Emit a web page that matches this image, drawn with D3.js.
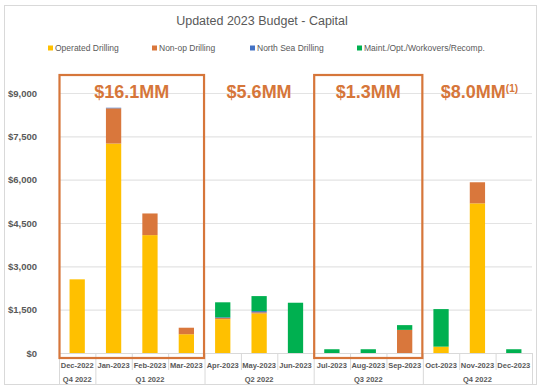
<!DOCTYPE html>
<html>
<head>
<meta charset="utf-8">
<script src="https://cdn.jsdelivr.net/npm/d3@7"></script>
<style>
  body { margin: 0; background: #fff; }
  svg { font-family: "Liberation Sans", Arial, sans-serif; }
</style>
</head>
<body>
<div id="chart"></div>
<script>
// ── Data ──────────────────────────────────────────────────────────────────────
const MONTHS   = ["Dec-2022", "Jan-2023", "Feb-2023", "Mar-2023", "Apr-2023", "May-2023", "Jun-2023",
                  "Jul-2023", "Aug-2023", "Sep-2023", "Oct-2023", "Nov-2023", "Dec-2023"];
const QUARTERS = ["Q4 2022", "Q1 2022", "Q1 2022", "Q1 2022", "Q2 2022", "Q2 2022", "Q2 2022",
                  "Q3 2022", "Q3 2022", "Q3 2022", "Q4 2022", "Q4 2022", "Q4 2022"];
const OPERATED  = [2550, 7250, 4080, 650, 1170, 1370, 0, 0, 0, 0, 220, 5180, 0];
const NON_OP    = [0, 1220, 750, 225, 40, 40, 0, 0, 0, 800, 0, 730, 0];
const NORTH_SEA = [0, 20, 0, 0, 25, 40, 0, 0, 0, 0, 0, 0, 0];
const MAINT     = [0, 0, 0, 0, 520, 520, 1740, 130, 130, 165, 1300, 0, 130];
const Y_TICKS   = [0, 1500, 3000, 4500, 6000, 7500, 9000];

// quarter-total call-outs: [first month, last month, label, footnote, boxed]
const CALLOUTS = [
  ["Dec-2022", "Mar-2023", "$16.1MM", "", true],
  ["Apr-2023", "Jun-2023", "$5.6MM", "", false],
  ["Jul-2023", "Sep-2023", "$1.3MM", "", true],
  ["Oct-2023", "Dec-2023", "$8.0MM", "(1)", false],
];

const SERIES = [
  { name: "Operated Drilling", values: OPERATED,  color: "#FFC000" },
  { name: "Non-op Drilling",   values: NON_OP,    color: "#D9773C" },
  { name: "North Sea Drilling", values: NORTH_SEA, color: "#4472C4" },
  { name: "Maint./Opt./Workovers/Recomp.", values: MAINT, color: "#00B050" },
];

// ── Layout ────────────────────────────────────────────────────────────────────
const W = 541, H = 389;
const plot = { left: 59, right: 532, top: 93, bottom: 353 };
const ORANGE = "#D6763A";
const GREY_TXT = "#595959";

const svg = d3.select("#chart").append("svg").attr("width", W).attr("height", H);

svg.append("rect")   // chart frame
  .attr("x", 4.5).attr("y", 5.5).attr("width", 532).attr("height", 379)
  .attr("fill", "none").attr("stroke", "#D9D9D9");

// ── Scales ────────────────────────────────────────────────────────────────────
const x = d3.scaleBand().domain(MONTHS).range([plot.left, plot.right]);
const barW = x.bandwidth() * 0.42;
const y = d3.scaleLinear().domain([0, 9000]).range([plot.bottom, plot.top]);

// ── Title & legend ────────────────────────────────────────────────────────────
svg.append("text")
  .attr("x", 262).attr("y", 25).attr("text-anchor", "middle")
  .style("font-size", "12.5px").attr("fill", GREY_TXT)
  .text("Updated 2023 Budget - Capital");

const legendX = [48, 152, 250, 357];
SERIES.forEach((s, i) => {
  const g = svg.append("g").attr("transform", `translate(${legendX[i]},48)`);
  g.append("rect").attr("x", 0).attr("y", -2.5).attr("width", 5).attr("height", 5).attr("fill", s.color);
  g.append("text").attr("x", 7).attr("y", 3).style("font-size", "8.5px").attr("fill", GREY_TXT).text(s.name);
});

// ── Y axis + gridlines ────────────────────────────────────────────────────────
const yAxisG = svg.append("g")
  .attr("transform", `translate(${plot.left},0)`)
  .call(d3.axisLeft(y).tickValues(Y_TICKS)
    .tickSize(-(plot.right - plot.left)).tickPadding(22)
    .tickFormat(d => "$" + d3.format(",")(d)));
yAxisG.select(".domain").remove();
yAxisG.selectAll(".tick line").attr("stroke", "#E3E3E3").attr("stroke-width", 1.2);
yAxisG.selectAll(".tick text")
  .attr("fill", GREY_TXT).style("font-size", "9.5px").style("font-weight", "bold")
  .style("font-family", "'Liberation Sans', Arial, sans-serif");

// ── Bars ──────────────────────────────────────────────────────────────────────
const stackData = MONTHS.map((m, i) => {
  const row = { month: m };
  SERIES.forEach(s => row[s.name] = s.values[i]);
  return row;
});
const stacked = d3.stack().keys(SERIES.map(s => s.name))(stackData);

svg.append("g").selectAll("g")
  .data(stacked)
  .join("g")
  .attr("fill", (d, i) => SERIES[i].color)
  .selectAll("rect")
  .data(d => d)
  .join("rect")
  .attr("x", d => x(d.data.month) + (x.bandwidth() - barW) / 2)
  .attr("width", barW)
  .attr("y", d => y(d[1]))
  .attr("height", d => y(d[0]) - y(d[1]));

// ── X axis (two levels) ───────────────────────────────────────────────────────
svg.append("line")
  .attr("x1", plot.left).attr("x2", plot.right)
  .attr("y1", plot.bottom + 0.5).attr("y2", plot.bottom + 0.5)
  .attr("stroke", "#D9D9D9");

const xAxisG = svg.append("g")
  .attr("transform", `translate(0,${plot.bottom})`)
  .call(d3.axisBottom(x).tickSize(0).tickPadding(10));
xAxisG.select(".domain").remove();
xAxisG.selectAll(".tick text")
  .attr("fill", GREY_TXT).style("font-size", "7.5px").style("font-weight", "bold")
  .style("font-family", "'Liberation Sans', Arial, sans-serif");

// separators: short between months, long between quarters
MONTHS.concat([null]).forEach((m, i) => {
  const xx = i < MONTHS.length ? x(m) : plot.right;
  const groupEdge = i === 0 || i === MONTHS.length || QUARTERS[i] !== QUARTERS[i - 1];
  svg.append("line")
    .attr("x1", xx + 0.5).attr("x2", xx + 0.5)
    .attr("y1", plot.bottom).attr("y2", groupEdge ? 385 : 370)
    .attr("stroke", "#D9D9D9");
});

// quarter labels
const quarterRuns = [];
QUARTERS.forEach((q, i) => {
  if (i === 0 || q !== QUARTERS[i - 1]) quarterRuns.push({ q, from: MONTHS[i], to: MONTHS[i] });
  else quarterRuns[quarterRuns.length - 1].to = MONTHS[i];
});
svg.append("g").selectAll("text")
  .data(quarterRuns)
  .join("text")
  .attr("x", d => (x(d.from) + x(d.to) + x.bandwidth()) / 2)
  .attr("y", 382).attr("text-anchor", "middle")
  .attr("fill", GREY_TXT).style("font-size", "7.5px").style("font-weight", "bold")
  .text(d => d.q);

// ── Call-outs ─────────────────────────────────────────────────────────────────
CALLOUTS.forEach(([from, to, label, note, boxed]) => {
  const x0 = x(from), x1 = x(to) + x.bandwidth();
  if (boxed) {
    svg.append("rect")
      .attr("x", x0 + 0.5).attr("y", 75).attr("width", x1 - x0 - 1).attr("height", 283)
      .attr("fill", "none").attr("stroke", ORANGE).attr("stroke-width", 2.2);
  }
  const t = svg.append("text")
    .attr("x", (x0 + x1) / 2 + (note ? 2 : 0)).attr("y", 98).attr("text-anchor", "middle")
    .attr("fill", ORANGE).style("font-size", "18px").style("font-weight", "bold")
    .text(label);
  if (note) {
    t.append("tspan").attr("dy", -6).style("font-size", "10px").text(note);
  }
});
</script>
</body>
</html>
